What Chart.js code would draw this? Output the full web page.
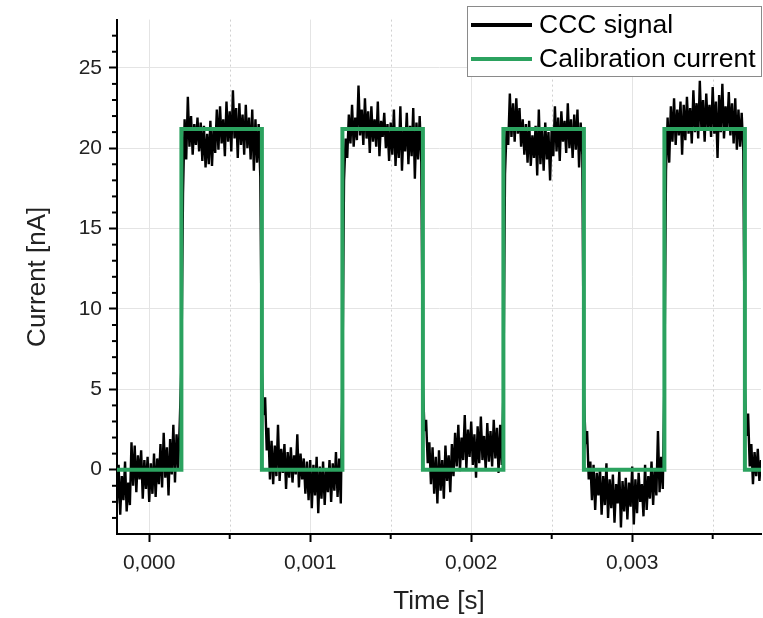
<!DOCTYPE html>
<html>
<head>
<meta charset="utf-8">
<script src="https://cdn.jsdelivr.net/npm/chart.js@4.4.1/dist/chart.umd.min.js"></script>
<style>
  html, body { margin: 0; padding: 0; background: #fff; }
  #wrap { width: 763px; height: 618px; }
</style>
</head>
<body>
<div id="wrap"><canvas id="chart" width="763" height="618"></canvas></div>
<script>
const sampleStart = -0.0002;
const sampleStep = 0.00001;
const cccSignal = [
  // low, -0.2 .. 0.19 ms
  -2.1, 0.3, -2.8, -0.4, -1.9, 0.5, -2.6, -0.8, -2.2, 1.7,
  -1.0, 1.5, -1.4, 0.9, -0.6, 1.2, -1.8, 0.6, -1.2, 0.8,
  -2.0, 0.4, -1.5, 1.0, -1.7, 0.7, -0.9, 1.6, -1.1, 2.3,
  -0.5, 1.4, -1.6, 1.9, -0.3, 2.8, -0.8, 2.2, 0.1, 3.0,
  // high, 0.2 .. 0.69 ms
  6.5, 17.2, 21.8, 19.3, 23.2, 20.1, 22.0, 19.6, 21.5, 20.2,
  21.9, 19.8, 21.6, 19.2, 21.4, 18.8, 20.9, 19.0, 21.7, 18.9,
  21.3, 19.7, 22.4, 19.9, 22.6, 20.3, 21.8, 19.5, 22.9, 20.4,
  22.3, 19.8, 23.6, 20.6, 22.5, 19.4, 22.8, 20.2, 22.1, 19.6,
  22.7, 20.0, 21.9, 19.3, 22.4, 18.6, 21.8, 19.1, 21.5, 18.2,
  // low, 0.7 .. 1.19 ms
  6.1, 3.4, 4.5, 1.2, 2.6, -0.6, 1.8, -0.9, 1.5, -0.4,
  2.8, -0.7, 1.3, -0.2, 1.6, -1.2, 1.1, -0.5, 1.4, -0.8,
  0.9, -0.3, 2.2, -1.1, 1.0, -0.6, 0.7, -1.5, 0.5, -1.9,
  0.6, -2.4, 0.3, -1.6, 0.8, -2.7, 0.2, -1.8, 0.5, -2.2,
  0.1, -1.4, 0.6, -2.0, 0.4, -1.3, 1.1, -1.7, 0.7, -2.1,
  // high, 1.2 .. 1.69 ms
  5.2, 18.0, 20.6, 19.4, 22.1, 20.3, 22.7, 20.1, 21.9, 20.5,
  23.9, 20.8, 22.4, 20.2, 23.1, 20.6, 22.3, 19.7, 22.6, 20.4,
  21.8, 20.1, 22.9, 19.5, 21.7, 20.7, 22.2, 20.0, 21.5, 19.2,
  21.6, 19.6, 22.4, 18.9, 21.3, 19.4, 22.6, 18.6, 21.2, 19.8,
  22.2, 19.0, 21.4, 19.5, 22.5, 18.1, 21.6, 19.3, 22.0, 19.1,
  // low, 1.7 .. 2.19 ms
  5.3, 2.4, 3.1, 0.4, 1.7, -0.9, 1.4, -1.5, 0.8, -2.1,
  1.2, -1.3, 0.6, -1.8, 1.5, -0.7, 0.9, -1.4, 1.6, -0.4,
  2.3, 0.2, 2.8, -0.1, 2.0, 0.6, 3.4, 0.1, 2.5, 0.8,
  3.0, 0.3, 2.2, -0.5, 2.7, 0.4, 3.3, 0.6, 2.1, 0.0,
  2.9, 0.5, 2.4, 0.2, 3.1, 0.7, 2.6, -0.2, 2.8, 0.3,
  // high, 2.2 .. 2.69 ms
  4.8, 18.4, 21.3, 20.2, 23.4, 20.7, 22.8, 20.4, 23.1, 20.9,
  22.5, 20.1, 21.8, 19.6, 21.5, 19.1, 21.7, 18.9, 20.8, 19.4,
  21.4, 18.3, 22.4, 19.0, 21.2, 18.6, 21.6, 19.3, 21.0, 18.0,
  21.3, 19.5, 22.6, 19.8, 21.9, 19.2, 22.3, 20.4, 21.7, 19.7,
  22.8, 20.0, 21.8, 19.4, 22.1, 19.9, 22.4, 18.8, 21.6, 19.6,
  // low, 2.7 .. 3.19 ms
  4.6, 1.8, 2.4, -0.6, 0.5, -1.9, 0.3, -2.5, -0.2, -1.6,
  0.1, -2.8, -0.4, -2.2, 0.4, -3.0, -0.6, -2.4, -0.3, -3.3,
  -0.9, -2.1, -0.1, -3.6, -0.7, -2.6, -0.5, -3.1, -0.8, -2.3,
  0.2, -3.4, -0.6, -2.7, -0.2, -2.0, -0.9, -2.9, 0.3, -2.5,
  -0.4, -1.8, 0.5, -2.2, 0.1, -1.6, 2.4, -1.4, 0.8, -1.2,
  // high, 3.2 .. 3.69 ms
  5.5, 18.6, 21.9, 19.1, 22.6, 20.4, 23.1, 20.2, 22.4, 20.8,
  22.9, 19.6, 22.7, 20.5, 23.2, 20.9, 22.5, 20.3, 23.6, 21.0,
  22.8, 20.6, 24.2, 21.1, 23.0, 20.4, 23.4, 21.2, 22.7, 20.7,
  23.8, 20.9, 22.9, 19.4, 23.3, 21.0, 24.0, 20.6, 22.6, 21.1,
  23.5, 20.8, 22.8, 20.3, 23.1, 19.9, 22.4, 20.1, 22.2, 19.8,
  // low, 3.7 .. 3.8 ms
  5.0, 2.1, 3.5, 0.2, 1.6, -0.9, 1.1, -0.4, 1.3, -0.7, 0.6
];

// calibration current: square wave corners
const calTime  = [-0.0002, 0.0002, 0.0002, 0.0007, 0.0007, 0.0012, 0.0012, 0.0017, 0.0017,
                  0.0022, 0.0022, 0.0027, 0.0027, 0.0032, 0.0032, 0.0037, 0.0037, 0.0038];
const calValue = [0, 0, 21.2, 21.2, 0, 0, 21.2, 21.2, 0,
                  0, 21.2, 21.2, 0, 0, 21.2, 21.2, 0, 0];

const xMajor = [0, 0.001, 0.002, 0.003];
const xMinor = [0.0005, 0.0015, 0.0025, 0.0035];
const yMajor = [0, 5, 10, 15, 20, 25];
const yMinor = [-3, -2, -1, 1, 2, 3, 4, 6, 7, 8, 9, 11, 12, 13, 14, 16, 17, 18, 19, 21, 22, 23, 24, 26, 27];

const seriesNames = ['CCC signal', 'Calibration current'];
const seriesColors = ['#000000', '#2ba25f'];

const cccPoints = cccSignal.map((v, i) => ({ x: sampleStart + i * sampleStep, y: v }));
const calPoints = calTime.map((t, i) => ({ x: t, y: calValue[i] }));

const FONT = 'Liberation Sans, Arial, sans-serif';

// minor ticks, dotted minor grid and the boxed legend
const extras = {
  id: 'extras',
  beforeDatasetsDraw(chart) {
    const { ctx, chartArea, scales: { x } } = chart;
    ctx.save();
    ctx.strokeStyle = '#d0d0d0';
    ctx.lineWidth = 1;
    ctx.setLineDash([2, 3]);
    xMinor.forEach(v => {
      const px = Math.round(x.getPixelForValue(v)) + 0.5;
      ctx.beginPath();
      ctx.moveTo(px, chartArea.top);
      ctx.lineTo(px, chartArea.bottom);
      ctx.stroke();
    });
    ctx.restore();
  },
  afterDraw(chart) {
    const { ctx, chartArea, scales: { x, y } } = chart;
    ctx.save();
    ctx.strokeStyle = '#000';
    ctx.lineWidth = 2;
    xMinor.forEach(v => {
      const px = x.getPixelForValue(v);
      ctx.beginPath();
      ctx.moveTo(px, chartArea.bottom);
      ctx.lineTo(px, chartArea.bottom + 5);
      ctx.stroke();
    });
    yMinor.forEach(v => {
      const py = y.getPixelForValue(v);
      ctx.beginPath();
      ctx.moveTo(chartArea.left, py);
      ctx.lineTo(chartArea.left - 5, py);
      ctx.stroke();
    });

    // legend
    const lx = 467, ly = 6, lw = 295, lh = 71;
    ctx.fillStyle = '#fff';
    ctx.fillRect(lx, ly, lw, lh);
    ctx.strokeStyle = '#8a8a8a';
    ctx.lineWidth = 1;
    ctx.strokeRect(lx + 0.5, ly + 0.5, lw - 1, lh - 1);
    ctx.font = '26.5px ' + FONT;
    ctx.textBaseline = 'middle';
    ctx.textAlign = 'left';
    [25, 59].forEach((yy, i) => {
      ctx.strokeStyle = seriesColors[i];
      ctx.lineWidth = 4;
      ctx.beginPath();
      ctx.moveTo(471, yy);
      ctx.lineTo(532, yy);
      ctx.stroke();
      ctx.fillStyle = '#000';
      ctx.fillText(seriesNames[i], 539, yy + 1);
    });
    ctx.restore();
  }
};

new Chart(document.getElementById('chart').getContext('2d'), {
  type: 'line',
  data: {
    datasets: [
      {
        label: seriesNames[0],
        data: cccPoints,
        borderColor: seriesColors[0],
        borderWidth: 2.4,
        pointRadius: 0,
        tension: 0,
        order: 2
      },
      {
        label: seriesNames[1],
        data: calPoints,
        borderColor: seriesColors[1],
        borderWidth: 4,
        pointRadius: 0,
        tension: 0,
        order: 1
      }
    ]
  },
  options: {
    responsive: false,
    animation: false,
    layout: { padding: { top: 15, right: 2, left: 0, bottom: 0 } },
    plugins: { legend: { display: false }, tooltip: { enabled: false } },
    scales: {
      x: {
        type: 'linear',
        min: -0.0002,
        max: 0.0038,
        afterBuildTicks: s => { s.ticks = xMajor.map(v => ({ value: v })); },
        afterFit: s => { s.height = 84; },
        ticks: {
          font: { size: 21, family: FONT },
          color: '#222',
          padding: 9,
          maxRotation: 0,
          callback: v => v.toFixed(3).replace('.', ',')
        },
        grid: { color: '#e4e4e4', lineWidth: 1, tickLength: 8, tickColor: '#000', tickWidth: 2 },
        border: { color: '#000', width: 2 },
        title: {
          display: true,
          text: 'Time [s]',
          font: { size: 26, family: FONT },
          color: '#222',
          padding: { top: 0, bottom: 1 }
        }
      },
      y: {
        min: -4,
        max: 28,
        afterBuildTicks: s => { s.ticks = yMajor.map(v => ({ value: v })); },
        afterFit: s => { s.width = 117; },
        ticks: {
          font: { size: 21, family: FONT },
          color: '#222',
          padding: 7
        },
        grid: { color: '#e4e4e4', lineWidth: 1, tickLength: 8, tickColor: '#000', tickWidth: 2 },
        border: { color: '#000', width: 2 },
        title: {
          display: true,
          text: 'Current [nA]',
          font: { size: 26, family: FONT },
          color: '#222',
          padding: { top: 22, bottom: 0 }
        }
      }
    }
  },
  plugins: [extras]
});
</script>
</body>
</html>
